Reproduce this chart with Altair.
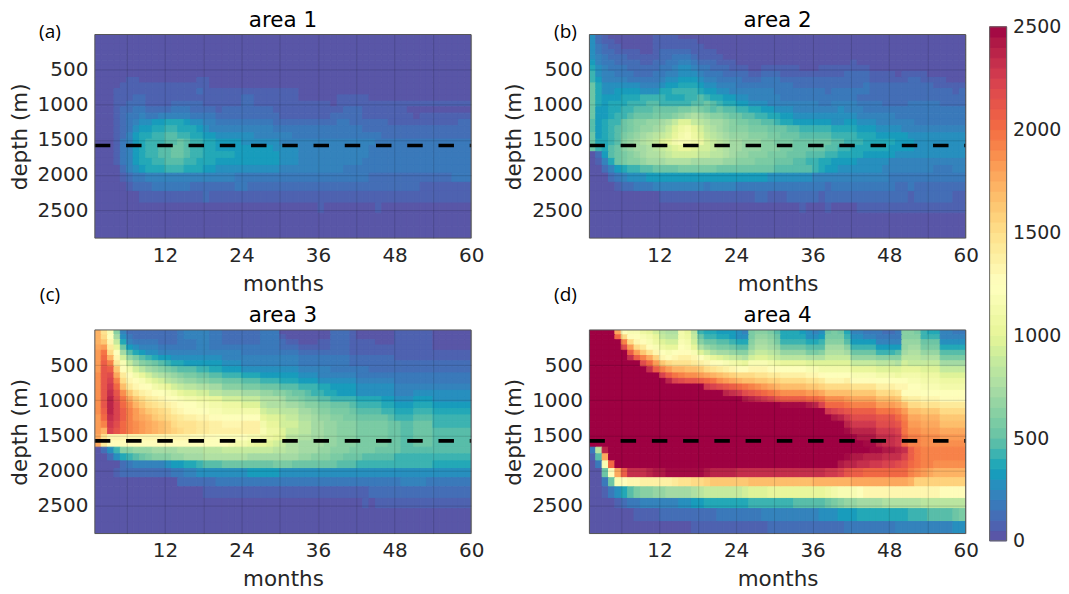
import altair as alt
import pandas as pd

# level characters: each step is 50 units (the colourbar has 50 steps)
ALPHABET = "0123456789abcdefghijklmnopqrstuvwxyzABCDEFGHIJKLMNO"
depth_edges = [0,70,140,215,290,365,440,525,612,690,770,860,950,1030,1120,1210,1300,1400,1490,1580,1670,1765,1865,1975,2105,2235,2400,2545,2730,2900]
NCOL = 59

area1 = ["0","0","0","0","0","0","0","0",
"0000011000 0000001100",
"0000111111 1111111100",
"0001111111 1111112111 1111111111 1100000000",
"0001112211 1111111111 1112211111 1100000011 1110",
"0001122211 1122222111 1112211111 1111111011 1111",
"0001223322 2233322221 2222222211 1111111112 2211111110",
"0001233433 4444433332 2222222221 1111111222 2211111111 011111111",
"0001234556 6777655443 3333333322 2222222233 2222221111 111111122",
"0001235667 7887776544 4444444433 3333333333 3322222222 222222222",
"0001246778 8998877665 5555544444 4333333333 3333322222 222222222",
"0001346788 899a988776 6665555554 4444444444 4444333333 333333333",
"0001346788 99aa988776 6666666655 5544444444 4443333333 333333333",
"0001346788 99aa988777 7766666665 5544444444 4443333333 333333333",
"0001346778 8999887776 6666666665 5544444444 4433333333 333333333",
"0000245677 7888777665 5555555554 4444444443 3333333333 333333333",
"0000123344 4444444444 4433333333 3333333333 3332222222 222222333",
"0000012223 3333322222 2233222222 2222222222 2222222222 211111111",
"0000000111 1111111211 1111111111 1111111111 1111111111 111111111",
"0000000000 0000000000 0000000000 0000010000 0000100000",
"0","0"]

area2 = [
"5210000000 1111000000 0",
"5211000000 1111111000 0",
"5321100000 1111111100 0",
"5322111100 1222221111 0",
"5432221111 1223332111 1000000000 0",
"6433222211 2233443222 1110000000 0000000000 0100000000",
"7543332222 2334554332 2211100111 1110001111 1111000000 000000000",
"8544333222 3344555433 3222211222 1111111111 2222111101 111000000",
"8644443333 3455666544 3333222333 2222222222 2222111111 221111000",
"a755555544 4566777655 4443333333 3322222222 2223222222 222211111",
"a755666655 5778888766 5544444443 3333333233 3333222222 222222212",
"a766677788 8877788987 7665544444 3333333333 3322222222 222222222",
"a767778889 98888899a9 8776655544 4444443344 4433332222 333332222",
"a667788999 aaaabbcba9 a998877665 5544444445 4443333333 333333333",
"a667889aaa bbbcdefedc cbaa998877 6655555555 5544444433 333333333",
"96788abccd defhjjhgfe edcbbaa998 7766666655 6655544444 433333333",
"96789abcdd efhjlmkigf edcccbbbaa a998888877 7766655554 444444444",
"a6789bcdef ghikmnljhg fedddcccbb aaa9999988 8877766666 555555555",
"a7789cdefg hjkmnnmlih gfeedddccb bbaaaaaa99 8887777766 655555555",
"a879acdeef ghijkkjiih gfeedddccc bbaaaaa998 8777777666 655555555",
"0269abcdef fghiiiihhg gfeddcccbb baaa999887 7776666655 555555555",
"0147abccde eeffffeeee eddcccbbba aa99887766 6655555444 444444444",
"0024678899 aaaabbbbbb aaaaaaaaa9 9999987665 5555554444 444433344",
"0002345556 6666666666 6666666655 5555544444 4444444333 333333333",
"0000122333 4444444434 4443333333 3333333233 3333333322 322222222",
"0000000000 0111111111 1111112211 1222221222 2222222222 122222211",
"0000000000 0000000000 0000000000 0001000100 0011111111 111111111",
"0","0"]

area3 = [
"ytnc422222 2223444433 2222223330 0000000222 1000000111 111000000",
"yuoe532222 2223444433 2222223331 0000000222 1000000111 111000000",
"ywqh743333 2223334433 2222223332 1100011222 1111000111 111000000",
"zAska65444 3333334433 3333333332 2211111222 1111111111 111000000",
"ADuoe97655 4444444444 4443333333 3322222222 1111111111 111111111",
"AEyqidb987 6655555555 4444444444 4433333333 2222222111 111111111",
"AFCsnhecba 9877666666 5554444444 4433333333 2222222222 222222222",
"AGFwpmiged cba9998877 6665555555 5544444333 3332222222 222222222",
"BGHzspmkig fedcbbaa99 8887776666 6655544444 4333333333 333333333",
"BGICuqpnlj igfeddccbb aaa9998887 7766655555 5444444333 333333333",
"BGJExsqpom lkihggffee cccbbbaaa9 9988877666 6555555444 444444444",
"BGKGBwtrqp onmkjjiigg fffeeeddcc baa9887766 6555555444 555555555",
"BGLHDzwusr qponmmllkk iiihhhfffe ccbaa99888 8777766555 666555555",
"BGLIEBywut srqpoonnmm llljjjgfff eedccbbaaa 9888877666 777666666",
"BFLIFCAywv utrqppoonn mmmmmmihhg ggeedccbbb a999988777 888777777",
"AEKIFCAzyw vutsrrqqpp ooooookjji hhffeddccb baaaaa9888 999888888",
"ACJHECBAzy xwutttssrr qqqrrrmkki iiggeeddcc cbbbbbaa99 aaa888888",
"AyIGECBAzy xwvuttssrr rrrrrrnllj hhggeeddcc cbbbbbaa99 aaa999999",
"ztqqqqqqqq qqqqqppppo oooonnmlkj ggffeeddcc cbbbbbaa99 aaa999999",
"zspppppppp pppppooooo onmmlkkjih ffeeeeddcc cbbbbbaa99 aaa999999",
"0258ccddde eeeffffggg hhhhhhhhgg ffeeeddccc bbbbaaaa99 999999999",
"0025789abc ccddeeefff ffffeeeeee eeddcccbba aa99999888 888888888",
"0000234444 4566778999 aaaaaaaabb baaaaaaa99 9888888888 888777777",
"0001222222 2233445555 5555666665 5555555555 5555555555 555555555",
"0000000000 0002222223 3333333333 3333333333 3333333344 443333333",
"0000000000 0000000111 1111111111 1111111111 1112222222 222222222",
"0000000000 0000000000 0000000000 0000000000 0010111111 111111111",
"0","0"]

area4 = [
"OOOOzonnlk igffmkg877 66654bccb9 7776545aba 744333223c cb8774433",
"OOOOEuponm khggmlha88 77655bddca 7777556bbb 855443333c cc8884444",
"OOOOOCuqpn ljiinmicaa 99877ceedb 8888778ccc 966664444d ddaaa5555",
"OOOOOHAusp nlkkonkfdc bba99dffed aaaa999eee c88886666d eebbb7777",
"OOOOOOFAwt qonoppnjhf eedccfhhgf ddddbbcfff eaaaa8889e ffddd9999",
"OOOOOOKFCz vqpqrrqomk jihgfijjih ggggfffhhh hddddccccg ggfffbbbb",
"OOOOOOOOHE Awutttsrqp onmlknnnml kkkkjjjjjj jhhhhgggfi hhhhheeee",
"OOOOOOOOOK FCAyyxxwut srqppqqqpp oooonnmmmm mkkkkjjjjk kkjjjhhhh",
"OOOOOOOOOO OIFDCBBAzy xwvuuuttss rrrrqqpooo onnnnmmmlm mmllljjjj",
"OOOOOOOOOO OOLIHGGFED BAzyxxwwvv uuuuttsqqq rppppooooo nnmmmllll",
"OOOOOOOOOO OOOOOOOOJI HGFEDCBAzy xxxxwwvuuu uttttrrrqq oonnnmmmm",
"OOOOOOOOOO OOOOOOOOOO OLKJHGFEDC BBBBAAzxxx xwwwwuuutp ppooooooo",
"OOOOOOOOOO OOOOOOOOOO OOOOMLKJIG FFFFEEDBBB Azzzzxxxws rrqqqpppp",
"OOOOOOOOOO OOOOOOOOOO OOOOOOOOOO NNNNMLIEEE DCCCCAAAzx uutttssss",
"OOOOOOOOOO OOOOOOOOOO OOOOOOOOOO OOOOOOOJIH GFFFFDDDCA xxwwwuuuu",
"OOOOOOOOOO OOOOOOOOOO OOOOOOOOOO OOOOOOOOML JHHHHGGGEC zzyyywwww",
"OOOOOOOOOO OOOOOOOOOO OOOOOOOOOO OOOOOOOOOO LJJJJHHHGD AAzzzxxxx",
"OOOOOOOOOO OOOOOOOOOO OOOOOOOOOO OOOOOOOOOO NLLLLJJJID BBAAAzzzz",
"OOOOOOOOOO OOOOOOOOOO OOOOOOOOOO OOOOOOOOOO ONMMMKKKJE CCBBBAAAA",
"OOOOOOOOOO OOOOOOOOOO OOOOOOOOOO OOOOOOOOOO OOONNLKKJE CCBBBBBBB",
"3gLOOOOOOO OOOOOOOOOO OOOOOOOOOO OOOOOOOOOO OOOONNMMLK FDCCCCCCC",
"19zOOOOOOO OOOOOOOOOO OOOOOOOOOO OOOOOOOOOO NMMLLLKKKI FDCCCCCCC",
"03nEOOOOOO OOOOOOOOOO OOOOOOOOOO OOOOOOOOOM LLKKJJIIHG EDCCBBBBB",
"00apzFKKKL MMNNNNNNML LLLKKKKKKK KKKKKKKJJI GFFEEEEEEE CBAzyyyyy",
"003anpqqrr rrrsttuuvw wwwwwxxxxx xxxxxyyyyy yzzzzzzzzz yvvvvvvvv",
"0013579bcc ddeeeefghh hhhhijjjkk kkkkkkklmn nnoqqqqqqq qqqqqpppp",
"0000123344 4444556677 7777788888 8899999abc ddeeeeffff ffggggggg",
"0000000111 1222222222 3333333444 4444445556 6677777777 8889999ab",
"0000000000 0000001111 1111111122 2222222222 3333333344 444444455",
]

month_ticks = [6,12,18,24,30,36,42,48,54,60]
depth_ticks = [500,1000,1500,2000,2500]
bar_ticks = [0,500,1000,1500,2000,2500]
spectral_stops = [0,250,500,750,1000,1250,1500,1750,2000,2250,2500]
spectral_colors = ["#5e4fa2","#3288bd","#66c2a5","#abdda4","#e6f598","#ffffbf","#fee08b","#fdae61","#f46d43","#d53e4f","#9e0142"]
DASH_DEPTH = 1580
PW, PH = 377, 204
INK = "#262626"

color_scale = alt.Scale(domain=spectral_stops, range=spectral_colors, clamp=True)

def table(rows):
    recs = []
    for r, row in enumerate(rows):
        s = row.replace(" ", "")
        s = (s + s[-1] * NCOL)[:NCOL]
        for c, ch in enumerate(s):
            recs.append(dict(m0=c + 1, m1=c + 2, d0=depth_edges[r], d1=depth_edges[r + 1],
                             v=min(2500, ALPHABET.index(ch) * 50 + 25)))
    return pd.DataFrame(recs)

def panel(rows, title, tags):
    df = table(rows)
    x = alt.X("m0:Q", scale=alt.Scale(domain=[1, 60], nice=False, zero=False), title="months",
              axis=alt.Axis(values=month_ticks, labelExpr="datum.value % 12 == 0 ? datum.value : ''",
                            tickSize=0, grid=True, gridColor="#000", gridOpacity=0.15, domain=False,
                            labelFontSize=20, titleFontSize=21.5, labelColor=INK, titleColor=INK,
                            titleFontWeight="normal", labelPadding=7, titlePadding=8, zindex=1,
                            labelOverlap=False, labelFlush=False, labelFont="DejaVu Sans", titleFont="DejaVu Sans"))
    y = alt.Y("d0:Q", scale=alt.Scale(domain=[0, 2900], reverse=True, nice=False, zero=False), title="depth (m)",
              axis=alt.Axis(values=depth_ticks, format="d", tickSize=0, grid=True, gridColor="#000", gridOpacity=0.15,
                            domain=False, labelFontSize=20, titleFontSize=21.5, labelColor=INK, titleColor=INK,
                            titleFontWeight="normal", labelPadding=7, titlePadding=6, zindex=1,
                            labelFont="DejaVu Sans", titleFont="DejaVu Sans"))
    cells = alt.Chart(df).mark_rect(strokeWidth=1, clip=True).encode(
        x=x, x2="m1:Q", y=y, y2="d1:Q",
        color=alt.Color("v:Q", scale=color_scale, legend=None),
        stroke=alt.Stroke("v:Q", scale=color_scale, legend=None))
    dash = alt.Chart(alt.Data(values=[{}])).mark_rule(color="black", strokeWidth=3.6, strokeDash=[15.5, 15.8]).encode(
        x=alt.value(0), x2=alt.value(PW), y=alt.datum(DASH_DEPTH))
    frame = alt.Chart(alt.Data(values=[{}])).mark_rect(fillOpacity=0, stroke="#555555", strokeWidth=1).encode(
        x=alt.value(0), x2=alt.value(PW), y=alt.value(0), y2=alt.value(PH))
    head = alt.Chart(alt.Data(values=[{}])).mark_text(font="DejaVu Sans", fontSize=21.5, color="black", align="center", baseline="alphabetic").encode(
        x=alt.value(PW / 2), y=alt.value(-8), text=alt.value(title))
    layers = [cells, dash, frame, head]
    for tag, tx, ty in tags:
        layers.append(alt.Chart(alt.Data(values=[{}])).mark_text(font="Open Sans", fontSize=19, color="black", align="center", baseline="middle").encode(
            x=alt.value(tx), y=alt.value(ty), text=alt.value(tag)))
    return alt.layer(*layers).properties(width=PW, height=PH)

a = panel(area1, "area 1", [("(a)", -45, -2), ("(c)", -45, 261)])
b = panel(area2, "area 2", [("(b)", -24, -2), ("(d)", -24, 261)])
c = panel(area3, "area 3", [])
d = panel(area4, "area 4", [])

bins = pd.DataFrame({"lo": list(range(0, 2500, 50))})
bins["hi"] = bins["lo"] + 50
bins["v"] = bins["lo"] + 25
bar_cells = alt.Chart(bins).mark_rect(strokeWidth=1).encode(
    x=alt.value(0), x2=alt.value(17),
    y=alt.Y("lo:Q", scale=alt.Scale(domain=[0, 2500], range=[507.3, -7.7], nice=False, zero=False), title=None,
            axis=alt.Axis(orient="right", values=bar_ticks, format="d", tickSize=0, domain=False, grid=False,
                          labelFontSize=19, labelColor=INK, labelPadding=6, labelFont="DejaVu Sans")),
    y2="hi:Q",
    color=alt.Color("v:Q", scale=color_scale, legend=None),
    stroke=alt.Stroke("v:Q", scale=color_scale, legend=None))
bar_frame = alt.Chart(alt.Data(values=[{}])).mark_rect(fillOpacity=0, stroke="#666666", strokeWidth=1).encode(
    x=alt.value(0), x2=alt.value(17), y=alt.value(-7.7), y2=alt.value(507.3))
cbar = alt.layer(bar_cells, bar_frame).properties(width=17, height=500)

left = alt.vconcat(a, c, spacing=0)
right = alt.vconcat(b, d, spacing=0)
row = alt.hconcat(left, right, spacing=19.5)
chart = alt.hconcat(row, cbar, spacing=9.5).resolve_scale(color="shared", stroke="shared").configure_view(stroke=None).properties(background="white", padding={"left": 1, "top": 1, "right": 0, "bottom": 0})
chart.save("out.html", embed_options={"renderer": "svg", "actions": False})
